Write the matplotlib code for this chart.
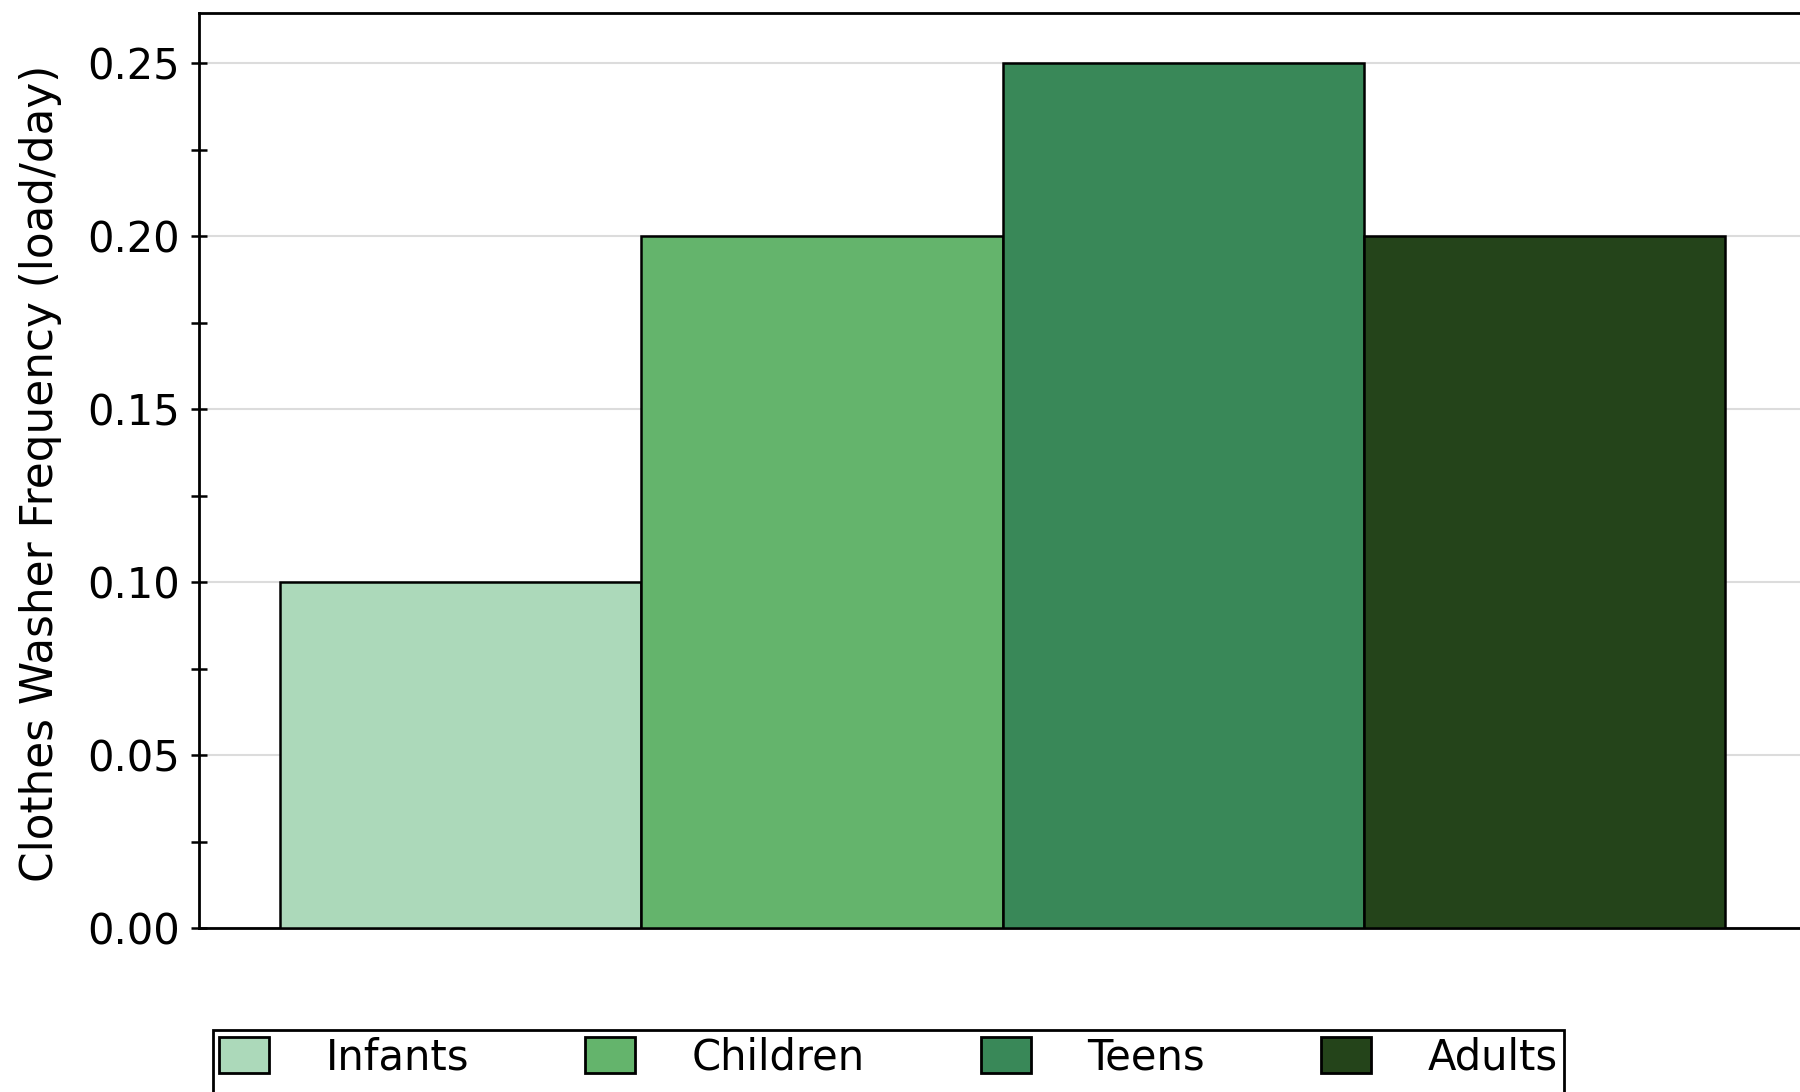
import matplotlib
matplotlib.use("Agg")
import matplotlib.pyplot as plt
from matplotlib.patches import Patch, Rectangle
from matplotlib.ticker import MultipleLocator

groups = ["Infants", "Children", "Teens", "Adults"]
frequency = [0.10, 0.20, 0.25, 0.20]
colors = ["#acd9ba", "#64b46c", "#398858", "#24441a"]
y_ticks = [0.00, 0.05, 0.10, 0.15, 0.20, 0.25]

plt.rcParams["font.family"] = ["DejaVu Sans"]
FS = 30

fig = plt.figure(figsize=(18, 10.92), dpi=100)
W, H = 1800, 1092
# axes spans past the right edge of the canvas, as in the reference
ax = fig.add_axes([199 / W, 1 - 928 / H, 1607 / W, 915 / H])

x = range(len(groups))
ax.bar(x, frequency, width=1.0, color=colors, edgecolor="black", linewidth=1.8, zorder=3)

ax.set_xlim(-0.724, 3.724)
ax.set_ylim(0, 0.2645)
ax.set_yticks(y_ticks)
ax.set_yticklabels([f"{v:.2f}" for v in y_ticks])
ax.yaxis.set_minor_locator(MultipleLocator(0.025))
ax.set_xticks([])

ax.grid(axis="y", which="major", color="#dcdcdc", linewidth=1.5, zorder=0)
ax.tick_params(axis="y", which="both", direction="inout", length=11, width=1.8,
               labelsize=FS, pad=8, colors="black")
for s in ["top", "left", "bottom", "right"]:
    ax.spines[s].set_linewidth(2)
    ax.spines[s].set_color("black")

ax.set_ylabel("Clothes Washer Frequency (load/day)", fontsize=31.5)
ax.yaxis.set_label_coords(-0.085, 0.497)

handles = [Patch(facecolor=c, edgecolor="black", linewidth=2) for c in colors]
leg = fig.legend(handles, groups, ncol=4, loc="upper left",
                 bbox_to_anchor=(213 / W, 1 - 1030 / H, 1351 / W, 0), mode="expand",
                 borderaxespad=0, fontsize=FS, frameon=False,
                 handlelength=1.2, handleheight=0.95, handletextpad=1.35,
                 borderpad=0.15, columnspacing=1.0)
# legend box runs off the bottom of the canvas in the reference
fig.add_artist(Rectangle((213 / W, -0.05), 1351 / W, 1 - 1030 / H + 0.05,
                         transform=fig.transFigure, facecolor="none",
                         edgecolor="black", linewidth=2))

fig.savefig("out.png", dpi=100, facecolor="white")
